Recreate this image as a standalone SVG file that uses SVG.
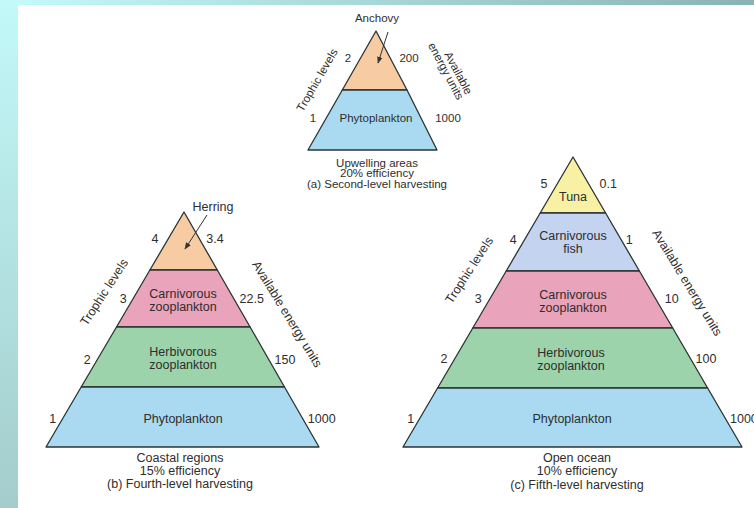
<svg xmlns="http://www.w3.org/2000/svg" width="754" height="508" viewBox="0 0 754 508">
<defs>
<linearGradient id="gl" x1="0" y1="0" x2="0" y2="1"><stop offset="0" stop-color="#c3f9f9"/><stop offset="1" stop-color="#a4cccc"/></linearGradient>
<linearGradient id="gt" x1="0" y1="0" x2="1" y2="0"><stop offset="0" stop-color="#c3f9f9"/><stop offset="1" stop-color="#89b3b3"/></linearGradient>
<marker id="ah" viewBox="0 0 10 10" refX="9" refY="5" markerWidth="7" markerHeight="7" orient="auto" markerUnits="userSpaceOnUse"><path d="M0,1 L10,5 L0,9 z" fill="#333"/></marker>
</defs>
<style>
text{font-family:"Liberation Sans",Arial,Helvetica,sans-serif;fill:#2e2e2e}
.s{font-size:11.5px}
.m{font-size:12.5px}
.c{text-anchor:middle}
.p{stroke:#2a3434;stroke-width:1.3;stroke-linejoin:round}
.peach{fill:#f8cca2}.blue{fill:#a9daf2}.pink{fill:#e9a3ba}.green{fill:#9dd3ab}.yellow{fill:#f8f0a2}.lav{fill:#c3d3f0}
</style>
<rect x="0" y="0" width="754" height="508" fill="#ffffff"/>
<rect x="0" y="0" width="18" height="508" fill="url(#gl)"/>
<rect x="18" y="0" width="736" height="5" fill="url(#gt)"/>

<g id="pyramid-a">
<polygon class="p peach" points="376,31 342.3,90 407,90"/>
<polygon class="p blue" points="342.3,90 407,90 437,150 308,150"/>
<text class="s c" x="377" y="22">Anchovy</text>
<text class="s c" x="348" y="62">2</text>
<text class="s c" x="409" y="62">200</text>
<text class="s c" x="313" y="122">1</text>
<text class="s c" x="376" y="122">Phytoplankton</text>
<text class="s c" x="448" y="122">1000</text>
<text class="s c" transform="translate(317,80) rotate(-60)" y="4">Trophic levels</text>
<text class="s c" transform="translate(458.5,73) rotate(62)" y="4">Available</text>
<text class="s c" transform="translate(446,71) rotate(62)" y="4">energy units</text>
<text class="s c" x="377" y="166.5">Upwelling areas</text>
<text class="s c" x="377" y="177">20% efficiency</text>
<text class="s c" x="377" y="187.5">(a) Second-level harvesting</text>
</g>

<g id="pyramid-b">
<polygon class="p peach" points="184,212 149.9,270 217.3,270"/>
<polygon class="p pink" points="149.9,270 217.3,270 250.1,327 116.5,327"/>
<polygon class="p green" points="116.5,327 250.1,327 284.5,387 81.2,387"/>
<polygon class="p blue" points="81.2,387 284.5,387 319,447 46,447"/>
<text class="m c" x="213" y="211">Herring</text>
<text class="m c" x="155" y="242.7">4</text>
<text class="m c" x="215" y="242.7">3.4</text>
<text class="m c" x="183" y="297.5">Carnivorous</text>
<text class="m c" x="183" y="311">zooplankton</text>
<text class="m c" x="123.3" y="302.7">3</text>
<text class="m c" x="251.7" y="302.7">22.5</text>
<text class="m c" x="183" y="356">Herbivorous</text>
<text class="m c" x="183" y="369.4">zooplankton</text>
<text class="m c" x="87.3" y="364.4">2</text>
<text class="m c" x="285" y="364.4">150</text>
<text class="m c" x="52.7" y="422.7">1</text>
<text class="m c" x="183" y="422.7">Phytoplankton</text>
<text class="m c" x="321.7" y="422.7">1000</text>
<text class="m c" transform="translate(104,292) rotate(-57)" y="4.4">Trophic levels</text>
<text class="m c" transform="translate(287.5,314) rotate(58.5)" y="4.4">Available energy units</text>
<text class="m c" x="180" y="461.7">Coastal regions</text>
<text class="m c" x="180" y="475">15% efficiency</text>
<text class="m c" x="180" y="488.4">(b) Fourth-level harvesting</text>
</g>

<g id="pyramid-c">
<polygon class="p yellow" points="573,157 540.2,213 605.6,213"/>
<polygon class="p lav" points="540.2,213 605.6,213 639.4,271 506.2,271"/>
<polygon class="p pink" points="506.2,271 639.4,271 672.7,328 472.8,328"/>
<polygon class="p green" points="472.8,328 672.7,328 707.6,388 437.6,388"/>
<polygon class="p blue" points="437.6,388 707.6,388 742,447 403,447"/>
<text class="m c" x="544" y="187.7">5</text>
<text class="m c" x="608.3" y="187.7">0.1</text>
<text class="m c" x="573" y="201">Tuna</text>
<text class="m c" x="573" y="240">Carnivorous</text>
<text class="m c" x="573" y="253">fish</text>
<text class="m c" x="513.3" y="244.4">4</text>
<text class="m c" x="629.3" y="244.4">1</text>
<text class="m c" x="573" y="298.8">Carnivorous</text>
<text class="m c" x="573" y="312">zooplankton</text>
<text class="m c" x="478.3" y="302.7">3</text>
<text class="m c" x="671.7" y="302.7">10</text>
<text class="m c" x="571" y="356.5">Herbivorous</text>
<text class="m c" x="571" y="369.6">zooplankton</text>
<text class="m c" x="444" y="362.7">2</text>
<text class="m c" x="706" y="362.7">100</text>
<text class="m c" x="410.7" y="423.4">1</text>
<text class="m c" x="572" y="423.4">Phytoplankton</text>
<text class="m" x="730" y="423.4">1000</text>
<text class="m c" transform="translate(469,270) rotate(-57)" y="4.4">Trophic levels</text>
<text class="m c" transform="translate(687.5,282.5) rotate(58.5)" y="4.4">Available energy units</text>
<text class="m c" x="577" y="461.7">Open ocean</text>
<text class="m c" x="577" y="475">10% efficiency</text>
<text class="m c" x="577" y="489.4">(c) Fifth-level harvesting</text>
</g>

<g id="connectors">
<line x1="388" y1="32" x2="378" y2="63" stroke="#333" stroke-width="1" marker-end="url(#ah)"/>
<line x1="207" y1="215" x2="185" y2="249" stroke="#333" stroke-width="1" marker-end="url(#ah)"/>
</g>
</svg>
